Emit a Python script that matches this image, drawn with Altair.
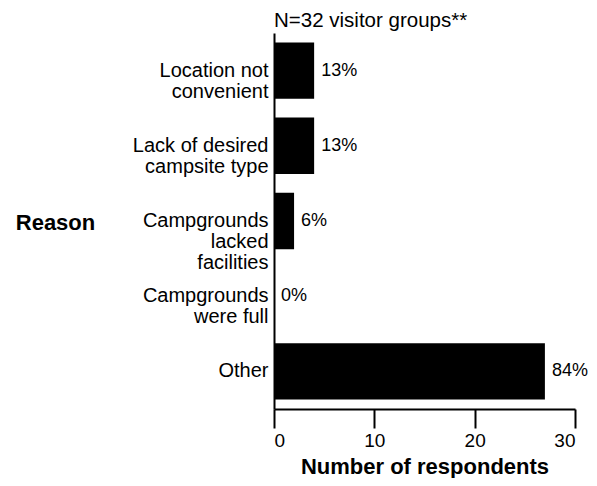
import altair as alt
import pandas as pd

reasons = [
    "Location not|convenient",
    "Lack of desired|campsite type",
    "Campgrounds|lacked|facilities",
    "Campgrounds|were full",
    "Other",
]
counts = [4, 4, 2, 0, 27]
percents = ["13%", "13%", "6%", "0%", "84%"]

df = pd.DataFrame({"reason": reasons, "count": counts, "pct": percents})

FONT = "Liberation Sans"

y_enc = alt.Y(
    "reason:N",
    sort=reasons,
    scale=alt.Scale(paddingInner=0.25, paddingOuter=0.125),
    axis=alt.Axis(
        title="Reason",
        titleAngle=0,
        titleX=-219,
        titleY=189,
        titleAlign="center",
        titleBaseline="middle",
        titleFontSize=22,
        titleFontWeight="bold",
        titleFont=FONT,
        titleColor="black",
        labelExpr="split(datum.label, '|')",
        labelFont=FONT,
        labelFontSize=20,
        labelLineHeight=21,
        labelColor="black",
        labelPadding=6,
        labelLimit=300,
        ticks=False,
        domainColor="black",
        domainWidth=2,
    ),
)

x_enc = alt.X(
    "count:Q",
    scale=alt.Scale(domain=[0, 30]),
    axis=alt.Axis(
        title="Number of respondents",
        values=[0, 10, 20, 30],
        titleFont=FONT,
        titleFontSize=22,
        titleFontWeight="bold",
        titleColor="black",
        titleBaseline="alphabetic",
        titleY=64,
        labelFont=FONT,
        labelFontSize=19,
        labelColor="black",
        labelPadding=3,
        tickSize=19,
        tickWidth=2,
        tickColor="black",
        domainColor="black",
        domainWidth=2,
        grid=False,
    ),
)

bars = alt.Chart(df).mark_bar(color="black").encode(x=x_enc, y=y_enc)

text = alt.Chart(df).mark_text(
    align="left", baseline="middle", dx=7, font=FONT, fontSize=18, color="black"
).encode(
    x=alt.X("count:Q"),
    y=alt.Y("reason:N", sort=reasons),
    text="pct:N",
)

chart = (
    (bars + text)
    .properties(
        width=301,
        height=376,
        autosize=alt.AutoSizeParams(type="none"),
        padding={"left": 266, "top": 25, "right": 14, "bottom": 69},
        title=alt.TitleParams(
            "N=32 visitor groups**",
            anchor="start",
            frame="group",
            font=FONT,
            fontSize=20.5,
            fontWeight="normal",
            color="black",
            offset=2,
        ),
    )
    .configure_view(stroke=None)
)

chart.save("out.html", embed_options={"renderer": "svg", "actions": False})
